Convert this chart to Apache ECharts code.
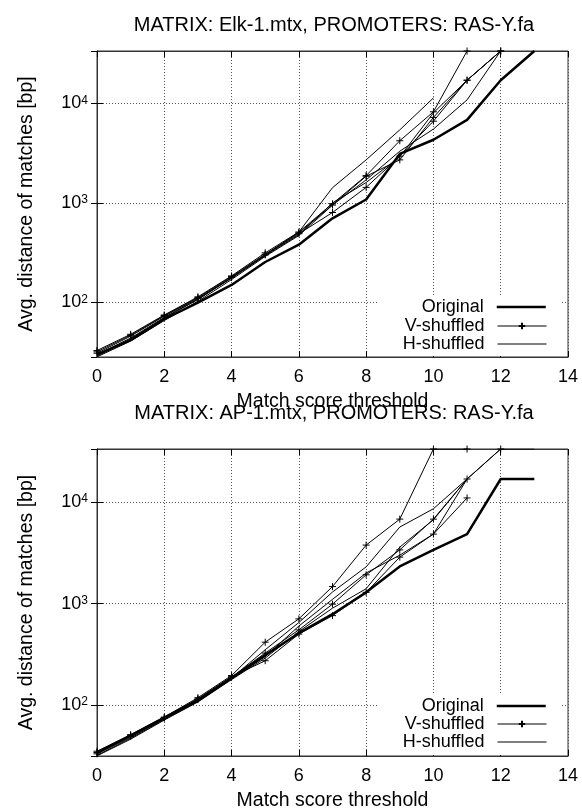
<!DOCTYPE html>
<html>
<head>
<meta charset="utf-8">
<script src="https://cdn.jsdelivr.net/npm/echarts@6/dist/echarts.min.js"></script>
<style>
html, body { margin: 0; padding: 0; background: #fff; }
#chart { width: 582px; height: 810px; }
</style>
</head>
<body>
<div id="chart"></div>
<script>
// match score thresholds (x)
var thresholds = [0, 1, 2, 3, 4, 5, 6, 7, 8, 9, 10, 11, 12, 13];
var xTickLabels = ['0', '2', '4', '6', '8', '10', '12', '14'];
var yTickPowers = [2, 3, 4];

// panel 1: Elk-1.mtx
var elkOriginal = [30, 42, 68, 100, 150, 255, 380, 700, 1080, 3100, 4300, 6800, 17000, 33400];
var elkV1 = [33, 48, 75, 114, 185, 315, 510, 980, 1875, 4200, 8200, 33400];
var elkV2 = [31, 46, 73, 110, 178, 300, 490, 800, 1430, 2940, 6600, 17000, 33400];
var elkV3 = [32, 47, 74, 112, 182, 305, 500, 950, 1850, 2700, 7200, 17000, 33400];
var elkH1 = [29, 43, 70, 107, 178, 300, 510, 1420, 2700, 5400, 11300];
var elkH2 = [28.5, 41, 66, 103, 170, 290, 470, 950, 1700, 3300, 5500, 10800, 33400];
var elkH3 = [30, 44, 71, 108, 175, 295, 480, 1000, 1600, 2900, 8000, 17000, 33400];

// panel 2: AP-1.mtx
var apOriginal = [34, 50, 75, 112, 185, 310, 510, 785, 1290, 2320, 3380, 4840, 16900, 16900];
var apV1 = [35, 51, 76, 118, 195, 416, 706, 1470, 3770, 6800, 33400, 33400];
var apV2 = [33, 49, 74, 113, 188, 325, 550, 986, 1920, 3380, 6800, 16900, 33400];
var apV3 = [34, 50, 75, 115, 190, 273, 500, 760, 1290, 2870, 4840, 11000];
var apH1 = [33, 48, 73, 110, 185, 350, 650, 1300, 2300, 5680, 8600, 16900, 33400, 33400];
var apH2 = [32, 47, 72, 108, 180, 300, 600, 1100, 2000, 3000, 4840, 16900];
var apH3 = [31.5, 46, 71, 107, 178, 290, 530, 900, 1400, 3600, 6700, 16900];

var FONT = 'Liberation Sans, Arial, Helvetica, sans-serif';
var plus = 'path://M0,5L10,5M5,0L5,10';

function pts(arr) {
  return arr.map(function (v, i) { return [thresholds[i], v]; });
}

function line(name, arr, xi, yi, kind) {
  var s = {
    name: name, type: 'line', xAxisIndex: xi, yAxisIndex: yi,
    data: pts(arr), smooth: false,
    lineStyle: { color: '#000', width: 1 },
    // no marker: keep the legend symbol invisible
    itemStyle: { color: 'transparent', borderColor: 'transparent', borderWidth: 0 },
    symbol: 'none', showSymbol: false,
    emphasis: { disabled: true }
  };
  if (kind === 'orig') s.lineStyle.width = 2.5;
  if (kind === 'v') {
    s.symbol = plus; s.showSymbol = true; s.symbolSize = 7;
    s.itemStyle = { color: '#000', borderColor: '#000', borderWidth: 1 };
  }
  return s;
}

function xAxes(gi) {
  return [{
    type: 'value', gridIndex: gi, min: 0, max: 14, interval: 2,
    name: 'Match score threshold', nameLocation: 'middle', nameGap: 35,
    nameTextStyle: { fontFamily: FONT, fontSize: 19.5, color: '#000' },
    axisLine: { show: true, lineStyle: { color: '#333' } },
    axisTick: { inside: true, length: 6, lineStyle: { color: '#000' } },
    axisLabel: {
      margin: 11, fontFamily: FONT, fontSize: 18, color: '#000',
      formatter: function (v) { return xTickLabels[Math.round(v / 2)]; }
    },
    splitLine: { show: true, lineStyle: { color: '#555', width: 1, type: [1, 2] } }
  }, {
    type: 'value', gridIndex: gi, position: 'top', min: 0, max: 14, interval: 2,
    axisLine: { show: true, lineStyle: { color: '#333' } },
    axisTick: { inside: true, length: 6, lineStyle: { color: '#000' } },
    axisLabel: { show: false }, splitLine: { show: false }
  }];
}

function yAxes(gi, ymin, ymax) {
  return [{
    type: 'log', logBase: 10, gridIndex: gi, min: ymin, max: ymax,
    name: 'Avg. distance of matches [bp]', nameLocation: 'middle', nameGap: 60,
    nameTextStyle: { fontFamily: FONT, fontSize: 19.5, color: '#000' },
    axisLine: { show: true, lineStyle: { color: '#333' } },
    axisTick: { inside: true, length: 6, lineStyle: { color: '#000' } },
    minorTick: { show: false },
    axisLabel: {
      margin: 9, showMinLabel: false, showMaxLabel: false,
      formatter: function (v) {
        var n = Math.round(Math.log(v) / Math.LN10);
        if (yTickPowers.indexOf(n) < 0 || Math.abs(Math.pow(10, n) - v) > 0.01 * v) return '';
        return '{b|10}{e|' + n + '}';
      },
      rich: {
        b: { fontFamily: FONT, fontSize: 18, color: '#000' },
        e: { fontFamily: FONT, fontSize: 12, color: '#000', verticalAlign: 'top' }
      }
    },
    splitLine: { show: true, lineStyle: { color: '#555', width: 1, type: [1, 2] } }
  }, {
    type: 'log', logBase: 10, gridIndex: gi, position: 'right', min: ymin, max: ymax,
    axisLine: { show: true, lineStyle: { color: '#333' } },
    axisTick: { inside: true, length: 6, lineStyle: { color: '#000' } },
    axisLabel: { show: false }, splitLine: { show: false }
  }];
}

function legendRow(name, top, lw) {
  return {
    data: [name], orient: 'vertical', align: 'right', right: 35, top: top,
    itemWidth: 49, itemHeight: 8, padding: 0, selectedMode: false,
    lineStyle: { color: '#000', width: lw },
    textStyle: { fontFamily: FONT, fontSize: 18, color: '#000', padding: [0, 8, 0, 0] }
  };
}

var chart = echarts.init(document.getElementById('chart'));
chart.setOption({
  animation: false,
  backgroundColor: '#fff',
  title: [{
    text: 'MATRIX: Elk-1.mtx, PROMOTERS: RAS-Y.fa', left: 329, top: 10, textAlign: 'center',
    textStyle: { fontFamily: FONT, fontSize: 20, fontWeight: 'normal', color: '#000' }
  }, {
    text: 'MATRIX: AP-1.mtx, PROMOTERS: RAS-Y.fa', left: 329, top: 398, textAlign: 'center',
    textStyle: { fontFamily: FONT, fontSize: 20, fontWeight: 'normal', color: '#000' }
  }],
  grid: [
    { left: 97, top: 51, width: 471, height: 306, show: true, borderColor: '#333', borderWidth: 1, outerBoundsMode: 'none' },
    { left: 97, top: 449, width: 471, height: 307, show: true, borderColor: '#333', borderWidth: 1, outerBoundsMode: 'none' }
  ],
  xAxis: xAxes(0).concat(xAxes(1)),
  yAxis: yAxes(0, 28.4, 33400).concat(yAxes(1, 31.4, 33400)),
  legend: [
    legendRow('Original', 298, 2.5), legendRow('V-shuffled', 317, 1), legendRow('H-shuffled', 335, 1),
    legendRow('Original', 697, 2.5), legendRow('V-shuffled', 715, 1), legendRow('H-shuffled', 733, 1)
  ],
  graphic: [
    { type: 'rect', shape: { x: 377, y: 296, width: 183, height: 60 }, style: { fill: '#fff' }, z: 1 },
    { type: 'rect', shape: { x: 377, y: 695, width: 183, height: 60 }, style: { fill: '#fff' }, z: 1 }
  ],
  series: [
    line('H-shuffled', elkH1, 0, 0, 'h'),
    line('H-shuffled', elkH2, 0, 0, 'h'),
    line('H-shuffled', elkH3, 0, 0, 'h'),
    line('V-shuffled', elkV1, 0, 0, 'v'),
    line('V-shuffled', elkV2, 0, 0, 'v'),
    line('V-shuffled', elkV3, 0, 0, 'v'),
    line('Original', elkOriginal, 0, 0, 'orig'),
    line('H-shuffled', apH1, 2, 2, 'h'),
    line('H-shuffled', apH2, 2, 2, 'h'),
    line('H-shuffled', apH3, 2, 2, 'h'),
    line('V-shuffled', apV1, 2, 2, 'v'),
    line('V-shuffled', apV2, 2, 2, 'v'),
    line('V-shuffled', apV3, 2, 2, 'v'),
    line('Original', apOriginal, 2, 2, 'orig')
  ]
});
</script>
</body>
</html>
